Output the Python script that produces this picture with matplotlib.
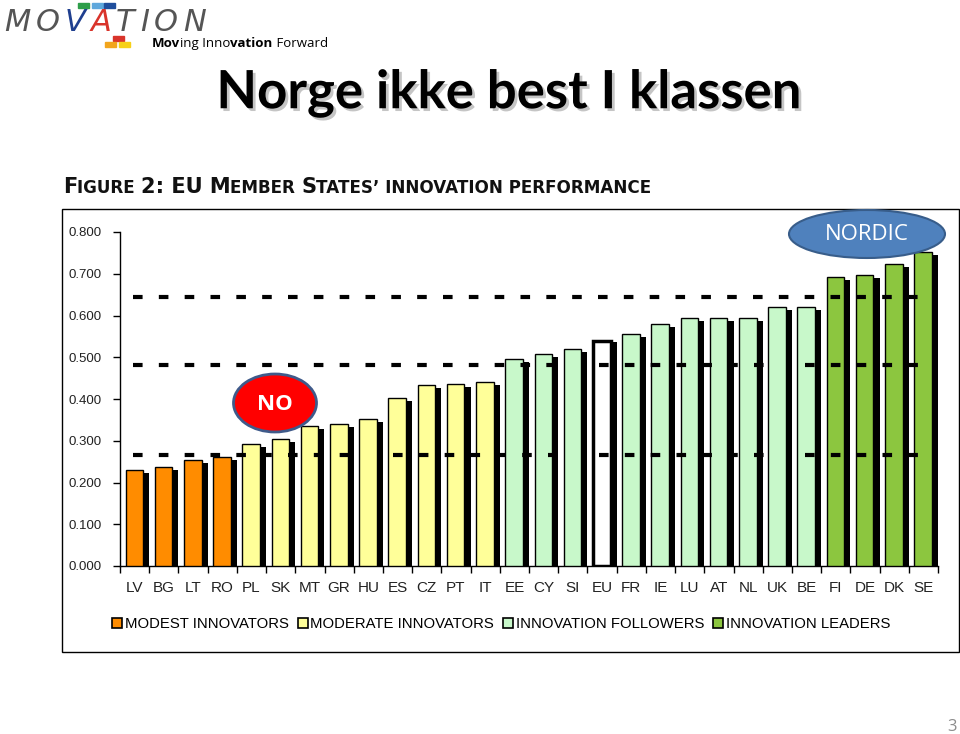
import matplotlib
matplotlib.use("Agg")
import matplotlib.pyplot as plt
import matplotlib.patches as mpatches
import matplotlib.patheffects as pe
from matplotlib.transforms import IdentityTransform
from matplotlib import font_manager

# data
countries = ["LV", "BG", "LT", "RO", "PL", "SK", "MT", "GR", "HU", "ES", "CZ", "PT", "IT",
             "EE", "CY", "SI", "EU", "FR", "IE", "LU", "AT", "NL", "UK", "BE",
             "FI", "DE", "DK", "SE"]
scores = [0.229, 0.237, 0.254, 0.262, 0.293, 0.303, 0.336, 0.341, 0.352, 0.403, 0.434, 0.436, 0.441,
          0.495, 0.507, 0.519, 0.543, 0.556, 0.579, 0.593, 0.593, 0.593, 0.621, 0.621,
          0.693, 0.698, 0.724, 0.753]
groups = ["mod"] * 4 + ["mid"] * 9 + ["fol"] * 3 + ["eu"] + ["fol"] * 7 + ["lead"] * 4
group_names = ["MODEST INNOVATORS", "MODERATE INNOVATORS", "INNOVATION FOLLOWERS", "INNOVATION LEADERS"]
thresholds = [0.266, 0.482, 0.645]

colors = {"mod": "#FF8C00", "mid": "#FFFF99", "fol": "#C8F8CA", "lead": "#8CC63F", "eu": "white"}

W, H = 960, 734
fig = plt.figure(figsize=(W / 100, H / 100), dpi=100)
fig.patch.set_facecolor("white")

names = {f.name for f in font_manager.fontManager.ttflist}
narrow = "Liberation Sans Narrow" if "Liberation Sans Narrow" in names else "Liberation Sans"
title_font = "Lato"


def px(x, y):
    return x, H - y


def seq_text(x, y, pieces, track=0, **kw):
    # draw several text pieces one after another (small caps, mixed weight)
    r = fig.canvas.get_renderer()
    X, Y = px(x, y)
    for s, props in pieces:
        opts = dict(kw)
        opts.update(props)
        t = fig.text(X, Y, s, transform=IdentityTransform(), va="baseline", **opts)
        X = t.get_window_extent(r).x1 + track


# chart frame
fig.patches.append(mpatches.Rectangle((62 / W, 1 - 652 / H), (959 - 62) / W, (652 - 209) / H,
                                      transform=fig.transFigure, fill=False, ec="black", lw=1))

ax = fig.add_axes([120 / W, 1 - 566 / H, (938 - 120) / W, (566 - 232) / H])
xs = list(range(len(countries)))

# black shadow bars behind
ax.bar([x + 0.2 for x in xs], [s - 0.007 for s in scores], width=0.6, color="black", zorder=2)
for x, s, g in zip(xs, scores, groups):
    lw = 2.5 if g == "eu" else 1
    ax.bar(x - 0.01, s - (0.003 if g == "eu" else 0), width=0.6, color=colors[g],
           edgecolor="black", linewidth=lw, zorder=3)

# dashed threshold lines (some gaps as in the original)
gaps = {0.266: [(7.82, 8.85), (14.9, 15.9), (21.9, 22.96)], 0.482: [(14.9, 15.9), (21.9, 22.96)], 0.645: []}
for t in thresholds:
    start = -0.05
    segs = []
    for a, b in gaps[t]:
        segs.append((start, a))
        start = b
    segs.append((start, 27.07))
    for a, b in segs:
        ax.plot([a, b], [t, t], color="black", lw=3, ls=(0, (2.3, 3.9)), zorder=5,
                solid_capstyle="butt", dash_capstyle="butt")

ax.set_xlim(-0.5, len(countries) - 0.5)
ax.set_ylim(0, 0.8)
ax.set_yticks([i / 10 for i in range(9)])
ax.set_yticklabels(["%.3f" % (i / 10) for i in range(9)], fontsize=9.5, family="Liberation Sans",
                   color="#222222")
ax.set_xticks(xs)
ax.set_xticklabels(countries, fontsize=11, family=narrow, color="#222222")
ax.set_xticks([x - 0.5 for x in xs] + [len(xs) - 0.5], minor=True)
ax.tick_params(axis="x", which="major", length=0, pad=11)
ax.tick_params(axis="x", which="minor", length=5, width=1, direction="out")
ax.tick_params(axis="y", length=5, width=1, direction="out", pad=8)
for side in ["top", "right"]:
    ax.spines[side].set_visible(False)
for side in ["left", "bottom"]:
    ax.spines[side].set_linewidth(1)

# legend
handles = [mpatches.Patch(facecolor=colors[k], edgecolor="black", linewidth=1.2)
           for k in ["mod", "mid", "fol", "lead"]]
fig.legend(handles, group_names, loc="center", bbox_to_anchor=(501 / W, 1 - 624 / H), ncol=4,
           frameon=False, handlelength=0.7, handleheight=0.7, handletextpad=0.15, columnspacing=0.6,
           prop={"family": narrow, "size": 10.75})

# callout ellipses
fig.patches.append(mpatches.Ellipse((275 / W, 1 - 403 / H), 83 / W, 58 / H, transform=fig.transFigure,
                                    fc="#FF0000", ec="#3F5A8A", lw=2, zorder=10))
fig.text(275 / W, 1 - 404 / H, "NO", ha="center", va="center", color="white", fontsize=16,
         family="Open Sans", weight="bold", zorder=11)
fig.patches.append(mpatches.Ellipse((867 / W, 1 - 234 / H), 156 / W, 48 / H, transform=fig.transFigure,
                                    fc="#4F81BD", ec="#385D8A", lw=1.5, zorder=10))
fig.text(867 / W, 1 - 235 / H, "NORDIC", ha="center", va="center", color="white", fontsize=16,
         family="Open Sans", zorder=11)

# title
fig.text(509 / W, 1 - 93 / H, "Norge ikke best I klassen", ha="center", va="center", fontsize=38,
         family=title_font, weight="bold", color="black",
         path_effects=[pe.withSimplePatchShadow(offset=(2, -2), shadow_rgbFace="gray", alpha=0.45)])

# figure caption in small caps
big, small = {"fontsize": 15.1}, {"fontsize": 12.05}
seq_text(63, 193, [("F", big), ("IGURE ", small), ("2: EU M", big), ("EMBER ", small), ("S", big),
                   ("TATES\u2019 INNOVATION PERFORMANCE", small)],
         family="DejaVu Sans", weight="bold", color="#111111")

# logo
for (x0, y0, c) in [(78, 3, "#2E9E4A"), (92, 3, "#5FA8DC"), (104, 3, "#1F4E9C"),
                    (113, 36, "#D9342B"), (105, 42, "#F2A51C"), (119, 42, "#F7D117")]:
    fig.patches.append(mpatches.Rectangle((x0 / W, 1 - (y0 + 5) / H), 11 / W, 5 / H,
                                          transform=fig.transFigure, color=c))
logo_cols = ["#555555", "#555555", "#1F3F8F", "#D9342B", "#555555", "#555555", "#555555", "#555555"]
seq_text(4, 31, [(ch, {"color": c}) for ch, c in zip("MOVATION", logo_cols)], track=5,
         family="DejaVu Sans", style="italic", fontsize=22, weight="light")
seq_text(152, 47, [("Mov", {"weight": "bold"}), ("ing Inno", {}), ("vation", {"weight": "bold"}),
                   (" Forward", {})], family="Open Sans", fontsize=9.5, color="black")

fig.text(952 / W, 1 - 727 / H, "3", ha="center", va="center", fontsize=12, color="#8C8C8C",
         family="Open Sans")

fig.savefig("out.png", dpi=100)
